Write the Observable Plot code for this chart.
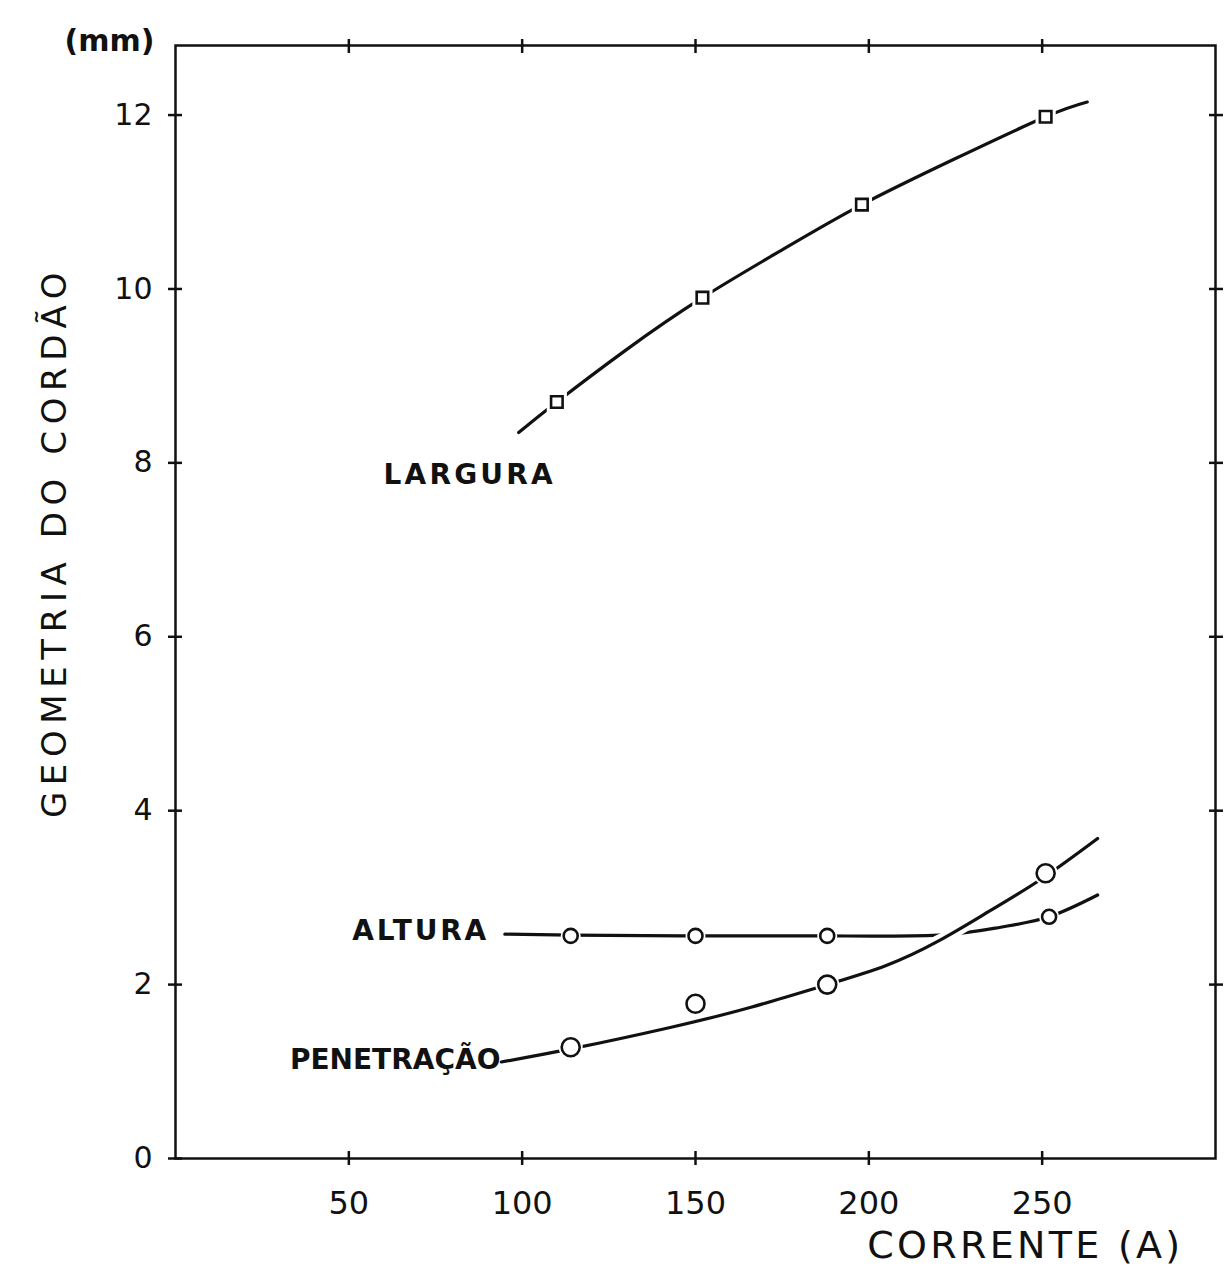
<!DOCTYPE html>
<html>
<head>
<meta charset="utf-8">
<script src="https://cdn.jsdelivr.net/npm/d3@7"></script>
<script src="https://cdn.jsdelivr.net/npm/@observablehq/plot@0.6"></script>
<style>
  html, body { margin: 0; padding: 0; background: #fff; }
  svg { display: block; }
</style>
</head>
<body>
<div id="chart"></div>
<script>
// ---- data ----
const xTicks = [50, 100, 150, 200, 250];
const yTicks = [0, 2, 4, 6, 8, 10, 12];

// measured points
const larguraPts = [
  {x: 110, y: 8.7}, {x: 152, y: 9.9}, {x: 198, y: 10.97}, {x: 251, y: 11.98}
];
const alturaPts = [
  {x: 114, y: 2.56}, {x: 150, y: 2.56}, {x: 188, y: 2.56}, {x: 252, y: 2.78}
];
const penetracaoPts = [
  {x: 114, y: 1.28}, {x: 150, y: 1.78}, {x: 188, y: 2.0}, {x: 251, y: 3.28}
];

// hand-drawn fitted curves
const larguraCurve = [
  {x: 99, y: 8.35}, {x: 110, y: 8.7}, {x: 130, y: 9.3}, {x: 152, y: 9.9},
  {x: 175, y: 10.45}, {x: 198, y: 10.97}, {x: 225, y: 11.5}, {x: 251, y: 11.98}, {x: 263, y: 12.15}
];
const alturaCurve = [
  {x: 95, y: 2.58}, {x: 114, y: 2.57}, {x: 150, y: 2.56}, {x: 188, y: 2.56},
  {x: 220, y: 2.57}, {x: 238, y: 2.66}, {x: 252, y: 2.78}, {x: 266, y: 3.03}
];
const penetracaoCurve = [
  {x: 94, y: 1.11}, {x: 114, y: 1.26}, {x: 143, y: 1.51},
  {x: 166, y: 1.74}, {x: 188, y: 2.0}, {x: 205, y: 2.22}, {x: 220, y: 2.5},
  {x: 235, y: 2.85}, {x: 250, y: 3.22}, {x: 266, y: 3.68}
];

const seriesLabels = [
  {name: "LARGURA", x: 60, y: 7.86},
  {name: "ALTURA", x: 51, y: 2.62},
  {name: "PENETRAÇÃO", x: 33, y: 1.13}
];
const yLabel = "GEOMETRIA DO CORDÃO";
const unitLabel = "(mm)";
const xLabel = "CORRENTE (A)";

const font = "'DejaVu Sans', sans-serif";
const ink = "#111";

const chart = Plot.plot({
  width: 1225,
  height: 1286,
  marginLeft: 175,
  marginRight: 10,
  marginTop: 45,
  marginBottom: 128,
  style: {fontFamily: font, background: "#fff", color: ink},
  x: {domain: [0, 300]},
  y: {domain: [0, 12.8]},
  marks: [
    Plot.frame({stroke: ink, strokeWidth: 2.5}),
    // bottom axis: labels + ticks crossing
    Plot.axisX({anchor: "bottom", ticks: xTicks, tickSize: 7, tickPadding: 26, fontSize: 32, label: null, strokeWidth: 2.5}),
    Plot.axisX({anchor: "bottom", ticks: xTicks, tickSize: -7, text: null, label: null, strokeWidth: 2.5}),
    // top axis ticks
    Plot.axisX({anchor: "top", ticks: xTicks, tickSize: 7, text: null, label: null, strokeWidth: 2.5}),
    Plot.axisX({anchor: "top", ticks: xTicks, tickSize: -7, text: null, label: null, strokeWidth: 2.5}),
    // left axis
    Plot.axisY({anchor: "left", ticks: yTicks, tickSize: 7, tickPadding: 16, fontSize: 30, label: null, strokeWidth: 2.5}),
    Plot.axisY({anchor: "left", ticks: yTicks, tickSize: -7, text: null, label: null, strokeWidth: 2.5}),
    // right axis ticks
    Plot.axisY({anchor: "right", ticks: yTicks.filter(d => d > 0), tickSize: 7, text: null, label: null, strokeWidth: 2.5}),
    Plot.axisY({anchor: "right", ticks: yTicks.filter(d => d > 0), tickSize: -7, text: null, label: null, strokeWidth: 2.5}),

    // curves
    Plot.line(larguraCurve, {x: "x", y: "y", curve: "natural", stroke: ink, strokeWidth: 3.2}),
    Plot.line(alturaCurve, {x: "x", y: "y", curve: "natural", stroke: ink, strokeWidth: 3.2}),
    Plot.line(penetracaoCurve, {x: "x", y: "y", curve: "natural", stroke: "#fff", strokeWidth: 12}),
    Plot.line(penetracaoCurve, {x: "x", y: "y", curve: "natural", stroke: ink, strokeWidth: 3.2}),

    // marker halos (gap in line around markers)
    Plot.dot(larguraPts, {x: "x", y: "y", symbol: "square", r: 8, fill: "#fff", stroke: "#fff", strokeWidth: 6}),
    Plot.dot(alturaPts, {x: "x", y: "y", r: 10, fill: "#fff"}),
    Plot.dot(penetracaoPts, {x: "x", y: "y", r: 12, fill: "#fff"}),
    // markers
    Plot.dot(larguraPts, {x: "x", y: "y", symbol: "square", r: 6.5, fill: "#fff", stroke: ink, strokeWidth: 2.6}),
    Plot.dot(alturaPts, {x: "x", y: "y", r: 7, fill: "#fff", stroke: ink, strokeWidth: 2.6}),
    Plot.dot(penetracaoPts, {x: "x", y: "y", r: 9, fill: "#fff", stroke: ink, strokeWidth: 2.6}),

    // series labels
    Plot.text(seriesLabels, {x: "x", y: "y", text: "name", textAnchor: "start", fontSize: 28, fontWeight: "bold", fill: ink}),

    // axis titles
    Plot.text([yLabel], {frameAnchor: "left", dx: -120, dy: -60, rotate: -90, textAnchor: "middle", fontSize: 34, fill: ink}),
    Plot.text([unitLabel], {frameAnchor: "top-left", dx: -111, dy: -16, textAnchor: "start", fontSize: 30, fontWeight: "bold", fill: ink}),
    Plot.text([xLabel], {frameAnchor: "bottom-right", dx: -32, dy: 99, textAnchor: "end", fontSize: 38, fill: ink})
  ]
});

// typewriter-style letter spacing, matched by text content
const spacing = new Map([
  ["LARGURA", 3.2],
  ["ALTURA", 2.8],
  [yLabel, 6.6],
  [xLabel, 3.3]
]);
d3.select(chart).selectAll("text").each(function () {
  const s = spacing.get(this.textContent);
  if (s != null) this.setAttribute("letter-spacing", s);
});
document.getElementById("chart").appendChild(chart);
</script>
</body>
</html>
